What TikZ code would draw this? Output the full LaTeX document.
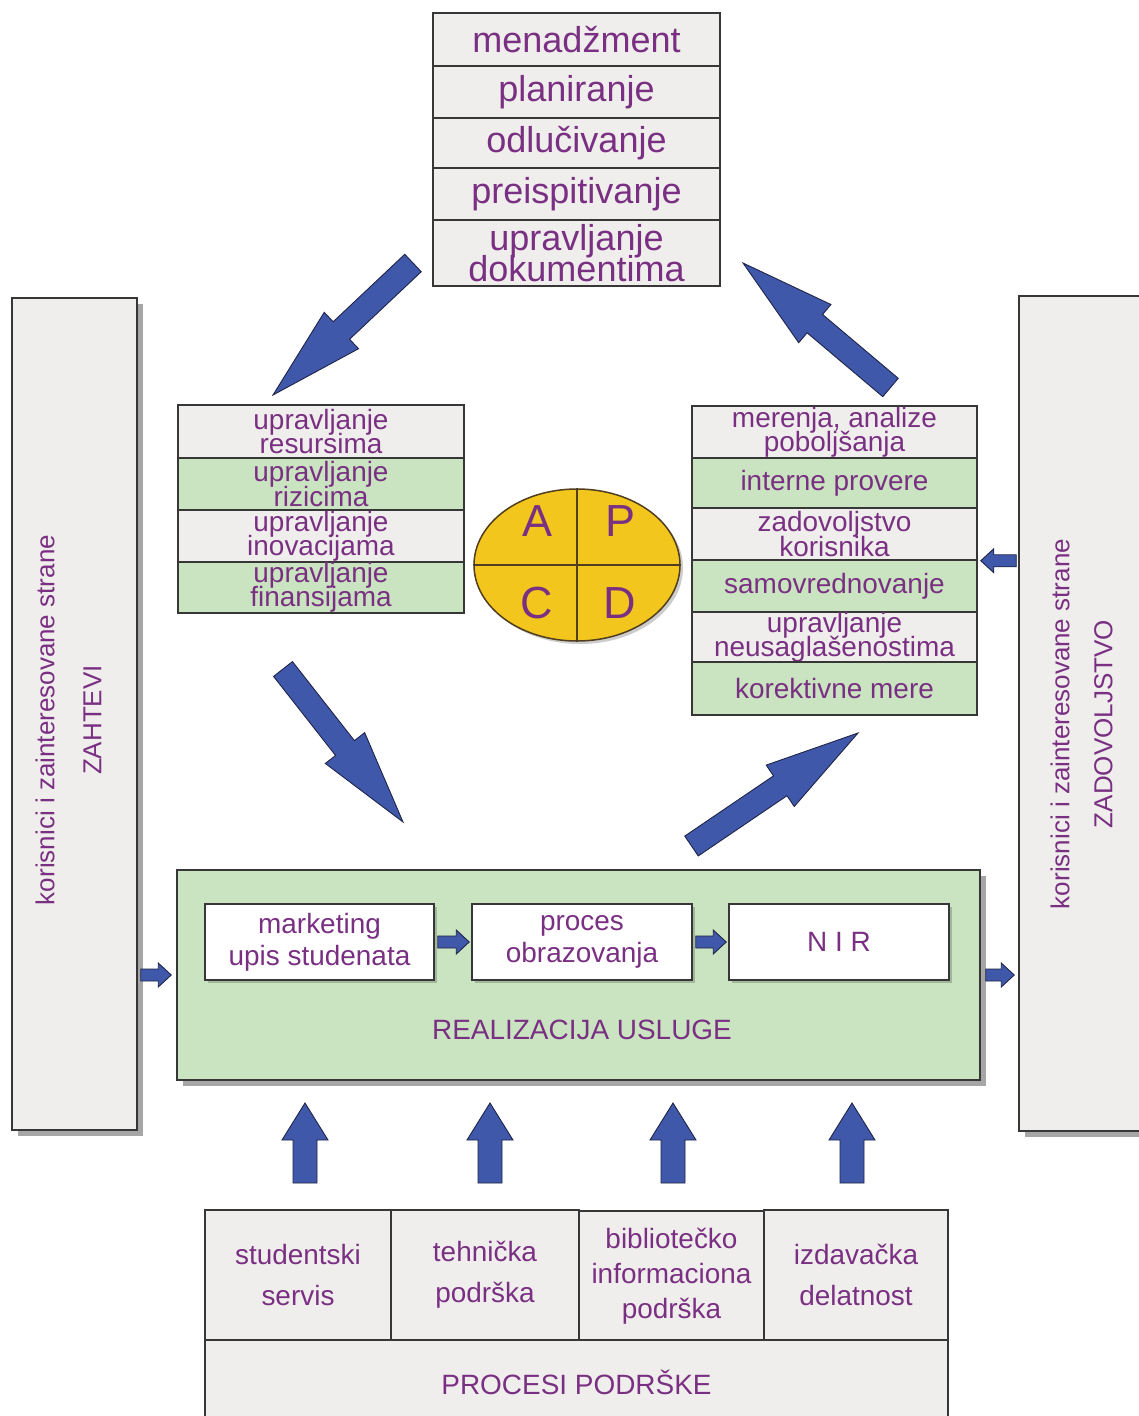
\documentclass[tikz,border=0pt]{standalone}
\usepackage{fontspec}
\setmainfont{Liberation Sans}
\usetikzlibrary{calc,shadows,fit,backgrounds,shapes.geometric}

\definecolor{txt}{RGB}{122,48,130}
\definecolor{boxgray}{RGB}{240,238,236}
\definecolor{boxgreen}{RGB}{202,228,193}
\definecolor{pdcayellow}{RGB}{242,198,28}
\definecolor{pdcaedge}{RGB}{80,62,30}
\definecolor{arrowblue}{RGB}{64,88,170}
\definecolor{arrowedge}{RGB}{30,35,70}
\definecolor{edge}{RGB}{55,55,55}

% font sizes (1 unit = 0.2mm)
\newcommand\ftop{\fontsize{20.5}{17.4}\selectfont\lineskiplimit=-30pt}
\newcommand\fcell{\fontsize{15.9}{13.7}\selectfont\lineskiplimit=-30pt}
\newcommand\finner{\fontsize{15.9}{18.2}\selectfont\lineskiplimit=-30pt}
\newcommand\fsupp{\fontsize{15.9}{23.3}\selectfont}
\newcommand\fsuppthree{\fontsize{15.9}{19.9}\selectfont}
\newcommand\fsideleft{\fontsize{14.8}{26.7}\selectfont}
\newcommand\fsideright{\fontsize{14.8}{24.5}\selectfont}
\newcommand\fpdca{\fontsize{25.6}{30}\selectfont}

% block arrow: #1 tail, #2 tip, #3 shaft half width, #4 head half width, #5 head length
\newcommand\flowarrow[5]{%
  \path ($(#2)!#5!(#1)$) coordinate (fa-neck);
  \filldraw[flowarrowstyle]
    ($(#1)!#3!90:(#2)$) -- ($(fa-neck)!#3!90:(#2)$) -- ($(fa-neck)!#4!90:(#2)$)
    -- (#2)
    -- ($(fa-neck)!#4!-90:(#2)$) -- ($(fa-neck)!#3!-90:(#2)$) -- ($(#1)!#3!-90:(#2)$) -- cycle;}

\begin{document}
\begin{tikzpicture}[x=0.2mm, y=0.2mm,
  sz/.style 2 args={minimum width=#1*0.2mm, minimum height=#2*0.2mm},
  cell/.style={draw=edge, line width=0.3mm, inner sep=0pt, align=center, text=txt, font=\fcell},
  graycell/.style={cell, fill=boxgray},
  greencell/.style={cell, fill=boxgreen},
  whitecell/.style={cell, fill=white, font=\finner},
  shadowed/.style={drop shadow={shadow xshift=1.1mm, shadow yshift=-1.1mm, fill=black, opacity=0.35}},
  softshadow/.style={drop shadow={shadow xshift=0.6mm, shadow yshift=-0.6mm, fill=black, opacity=0.2}},
  plaintext/.style={text=txt, inner sep=0pt, align=center},
  flowarrowstyle/.style={fill=arrowblue, draw=arrowedge, line width=0.5pt, line join=miter},
]
\useasboundingbox (0,0) rectangle (1138,-1416);
\fill[white] (0,0) rectangle (1138,-1416);

% management block
\node[graycell, sz={287}{53}, font=\ftop] (menadzment) at (576.5,-39.5) {menadžment};
\node[graycell, sz={287}{52}, font=\ftop] (planiranje) at (576.5,-92) {planiranje};
\node[graycell, sz={287}{50}, font=\ftop] (odlucivanje) at (576.5,-143) {odlučivanje};
\node[graycell, sz={287}{52}, font=\ftop] (preispitivanje) at (576.5,-194) {preispitivanje};
\node[graycell, sz={287}{66}, font=\ftop] (dokumenti) at (576.5,-253) {upravljanje\\dokumentima};

% resource management block
\node[graycell, sz={286}{53}] (resursi) at (321,-431.5) {upravljanje\\resursima};
\node[greencell, sz={286}{52}] (rizici) at (321,-484) {upravljanje\\rizicima};
\node[graycell, sz={286}{52}] (inovacije) at (321,-536) {upravljanje\\inovacijama};
\node[greencell, sz={286}{51}] (finansije) at (321,-587.5) {upravljanje\\finansijama};

% measurement block
\node[graycell, sz={285}{52}] (merenja) at (834.5,-432) {merenja, analize\\poboljšanja};
\node[greencell, sz={285}{50}] (provere) at (834.5,-483) {interne provere};
\node[graycell, sz={285}{52}] (zadovoljstvo) at (834.5,-534) {zadovoljstvo\\korisnika};
\node[greencell, sz={285}{52}] (samovrednovanje) at (834.5,-586) {samovrednovanje};
\node[graycell, sz={285}{50}] (neusaglasenosti) at (834.5,-637) {upravljanje\\neusaglašenostima};
\node[greencell, sz={285}{53}] (korektivne) at (834.5,-688.5) {korektivne mere};

% PDCA circle
\node[ellipse, draw=pdcaedge, line width=0.3mm, fill=pdcayellow, sz={206}{152}, softshadow] (pdca) at (577,-565) {};
\draw[pdcaedge, line width=0.3mm] (pdca.north) -- (pdca.south) (pdca.west) -- (pdca.east);
\node[plaintext, font=\fpdca] (pdca-a) at (537,-521) {A};
\node[plaintext, font=\fpdca] (pdca-p) at (620,-521) {P};
\node[plaintext, font=\fpdca] (pdca-c) at (537,-603) {C};
\node[plaintext, font=\fpdca] (pdca-d) at (620,-603) {D};

% stakeholder columns
\node[graycell, sz={125}{832}, shadowed] (zahtevi) at (74.5,-714) {};
\node[plaintext, rotate=90, font=\fsideleft] (zahtevi-t) at (68.5,-720)
  {korisnici i zainteresovane strane\\ZAHTEVI};
\node[graycell, sz={141}{835}, shadowed] (zadovoljstvo-box) at (1089.5,-713.5) {};
\node[plaintext, rotate=90, font=\fsideright] (zadovoljstvo-t) at (1081.5,-724)
  {korisnici i zainteresovane strane\\ZADOVOLJSTVO};

% service realization
\node[greencell, sz={803}{210}, shadowed] (realizacija) at (578.5,-975) {};
\node[whitecell, sz={229}{76}, softshadow] (marketing) at (319.5,-942) {marketing\\upis studenata};
\node[whitecell, sz={220}{76}, softshadow] (obrazovanje) at (582,-942) {proces\\obrazovanja};
\node[whitecell, sz={220}{76}, softshadow] (nir) at (839,-942) {N I R};
\node[plaintext, font=\fcell] (realizacija-t) at (582,-1030) {REALIZACIJA USLUGE};

% support processes
\node[graycell, sz={186}{130}, font=\fsupp] (studentski) at (298,-1275) {studentski\\servis};
\node[graycell, sz={188}{130}, font=\fsupp] (tehnicka) at (485,-1275) {tehnička\\podrška};
\node[graycell, sz={185}{130}, font=\fsuppthree] (biblioteka) at (671.5,-1276) {bibliotečko\\informaciona\\podrška};
\node[graycell, sz={184}{130}, font=\fsupp] (izdavacka) at (856,-1275) {izdavačka\\delatnost};
\node[graycell, sz={743}{84}] (procesi) at (576.5,-1382) {PROCESI PODRŠKE};
\begin{scope}[on background layer]
  \node[fit=(studentski)(izdavacka)(procesi), inner sep=0pt, fill=boxgray, shadowed] (podrska) {};
\end{scope}

% PDCA cycle arrows
\coordinate (cyc1a) at (413,-263);   \coordinate (cyc1b) at (273,-395);
\coordinate (cyc2a) at (283,-669);   \coordinate (cyc2b) at (403,-822);
\coordinate (cyc3a) at (691.5,-846); \coordinate (cyc3b) at (858,-733);
\coordinate (cyc4a) at (890.5,-387.5); \coordinate (cyc4b) at (743,-263);
\flowarrow{cyc1a}{cyc1b}{2.4mm}{5mm}{18.8mm}
\flowarrow{cyc2a}{cyc2b}{2.4mm}{5mm}{18.8mm}
\flowarrow{cyc3a}{cyc3b}{2.4mm}{5mm}{18.8mm}
\flowarrow{cyc4a}{cyc4b}{2.4mm}{5mm}{18.8mm}

% support arrows
\foreach \n/\x in {1/305, 2/490, 3/673, 4/852} {
  \coordinate (up\n a) at (\x,-1183);
  \coordinate (up\n b) at (\x,-1103);
  \flowarrow{up\n a}{up\n b}{2.4mm}{4.6mm}{7.4mm}
}

% small flow arrows
\coordinate (in-a) at ($(zahtevi.east |- realizacija.west)+(3,0)$);
\coordinate (in-b) at ($(realizacija.west)+(-5,0)$);
\flowarrow{in-a}{in-b}{1.2mm}{2.4mm}{2.6mm}
\coordinate (s1a) at ($(marketing.east)+(3,0)$);
\coordinate (s1b) at ($(obrazovanje.west)+(-2,0)$);
\flowarrow{s1a}{s1b}{1.2mm}{2.4mm}{2.6mm}
\coordinate (s2a) at ($(obrazovanje.east)+(3,0)$);
\coordinate (s2b) at ($(nir.west)+(-2,0)$);
\flowarrow{s2a}{s2b}{1.2mm}{2.4mm}{2.6mm}
\coordinate (out-a) at ($(realizacija.east)+(5,0)$);
\coordinate (out-b) at ($(zadovoljstvo-box.west |- realizacija.east)+(-4,0)$);
\flowarrow{out-a}{out-b}{1.2mm}{2.4mm}{2.6mm}
\coordinate (fb-a) at ($(zadovoljstvo-box.west |- zadovoljstvo.south east)+(-2,0)$);
\coordinate (fb-b) at ($(zadovoljstvo.south east)+(3,0)$);
\flowarrow{fb-a}{fb-b}{1.2mm}{2.4mm}{2.6mm}
\end{tikzpicture}
\end{document}
